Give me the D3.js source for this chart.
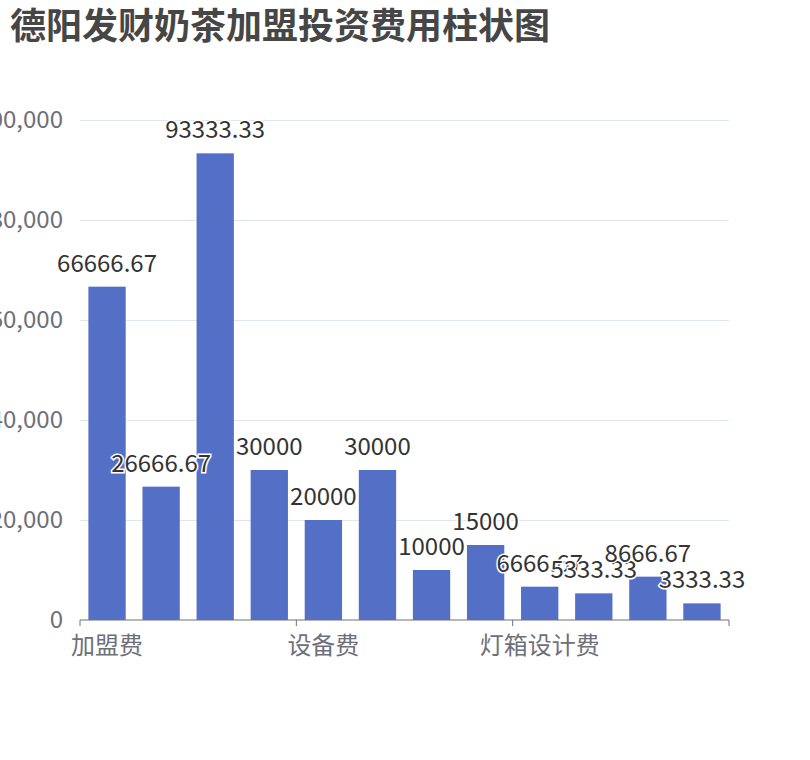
<!DOCTYPE html>
<html>
<head>
<meta charset="utf-8">
<script src="https://cdn.jsdelivr.net/npm/d3@7"></script>
<style>
body { margin:0; background:#fff; }
svg { display:block; font-family:"Noto Sans CJK SC","Noto Sans",sans-serif; }
</style>
</head>
<body>
<div id="chart"></div>
<script>
// chart values
var title = '德阳发财奶茶加盟投资费用柱状图'
var categories = ['加盟费','保证金','品牌管理费','首批物料费','设备费','装修费','房租押金','员工培训费','灯箱设计费','开业宣传费','流动资金','其他费用']
var values = [66666.67, 26666.67, 93333.33, 30000, 20000, 30000, 10000, 15000, 6666.67, 5333.33, 8666.67, 3333.33]
var labels = ['66666.67','26666.67','93333.33','30000','20000','30000','10000','15000','6666.67','5333.33','8666.67','3333.33']
var yTicks = [0, 20000, 40000, 60000, 80000, 100000]
var shownLabels = [0, 4, 8]  // only every 4th category name fits

var settings = {
	width: 810,
	height: 760,
	margin: {top:120, bottom:140, left:80, right:81}
}

var svg = d3.select('#chart').append('svg')
	.attr('width', settings.width)
	.attr('height', settings.height)

var innerW = settings.width - settings.margin.left - settings.margin.right
var innerH = settings.height - settings.margin.top - settings.margin.bottom

var x = d3.scaleBand()
	.domain(categories)
	.range([0, innerW])

var y = d3.scaleLinear()
	.domain([0, 100000])
	.range([innerH, 0])

svg.append('text')
	.attr('x', 10)
	.attr('y', 39)
	.attr('font-size', 36)
	.attr('font-weight', 'bold')
	.attr('fill', '#464646')
	.text(title)

var g = svg.append('g')
	.attr('transform', 'translate(' + settings.margin.left + ',' + settings.margin.top + ')')

// grid + y labels
var y_axis_shell = g.append('g').call(
	d3.axisLeft(y)
		.tickValues(yTicks)
		.tickSize(-innerW)
		.tickPadding(17)
		.tickFormat(d3.format(','))
)
y_axis_shell.select('.domain').remove()
y_axis_shell.selectAll('line').attr('stroke', '#e0e6f1')
y_axis_shell.selectAll('text')
	.attr('fill', '#6e7079')
	.attr('font-size', 24)
	.attr('font-family', '"Noto Sans CJK SC","Noto Sans",sans-serif')
y_axis_shell.selectAll('.tick').filter(function(d){ return d === 0 }).select('line').remove()

// bars
g.selectAll('rect.bar')
	.data(values)
	.enter()
	.append('rect').attr('class','bar')
	.attr('x', function(d,i){ return x(categories[i]) + x.bandwidth() * 0.155 })
	.attr('width', x.bandwidth() * 0.69)
	.attr('y', function(d){ return y(d) })
	.attr('height', function(d){ return innerH - y(d) })
	.attr('fill', '#5470c6')

// x axis
var x_axis_shell = g.append('g')
	.attr('transform', 'translate(0,' + innerH + ')')
x_axis_shell.append('line')
	.attr('x1', 0).attr('x2', innerW)
	.attr('stroke', '#6e7079')
x_axis_shell.selectAll('line.tick')
	.data([0, 4, 8, 12])
	.enter()
	.append('line').attr('class','tick')
	.attr('x1', function(d){ return d < 12 ? x(categories[d]) : innerW })
	.attr('x2', function(d){ return d < 12 ? x(categories[d]) : innerW })
	.attr('y1', 0).attr('y2', 6)
	.attr('stroke', '#6e7079')
x_axis_shell.selectAll('text')
	.data(shownLabels)
	.enter()
	.append('text')
	.attr('x', function(d){ return x(categories[d]) + x.bandwidth() / 2 })
	.attr('y', 34)
	.attr('text-anchor', 'middle')
	.attr('font-size', 24)
	.attr('fill', '#6e7079')
	.text(function(d){ return categories[d] })

// value labels
g.selectAll('text.val')
	.data(values)
	.enter()
	.append('text').attr('class','val')
	.attr('x', function(d,i){ return x(categories[i]) + x.bandwidth() / 2 })
	.attr('y', function(d){ return y(d) - 15 })
	.attr('text-anchor', 'middle')
	.attr('font-size', 24)
	.attr('fill', '#333')
	.attr('stroke', '#fff')
	.attr('stroke-width', 3)
	.attr('paint-order', 'stroke')
	.text(function(d,i){ return labels[i] })
</script>
</body>
</html>
